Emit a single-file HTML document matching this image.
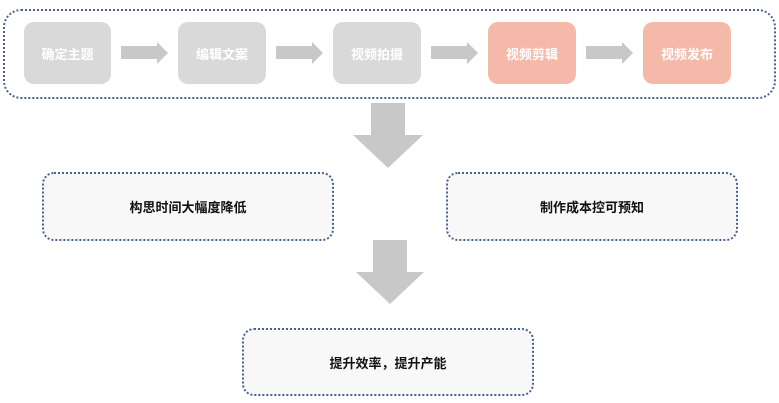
<!DOCTYPE html>
<html><head><meta charset="utf-8"><style>
body{margin:0;width:779px;height:403px;background:#fff;position:relative;overflow:hidden;font-family:"Liberation Sans","Noto Sans CJK SC",sans-serif;}
.a{position:absolute;box-sizing:border-box;}
.c{border:2px dotted #4a6290;border-radius:12px;}
.s{background:#d9d9d9;border-radius:10px;color:#fff;font-weight:bold;font-size:13px;display:flex;align-items:center;justify-content:center;}
.p{background:#f4b9a8;}
.m{background:#f8f8f8;display:flex;align-items:center;justify-content:center;font-weight:bold;font-size:13px;color:#111;}
</style></head><body>
<div class="a c" style="left:3px;top:9px;width:773px;height:90px;border-radius:18px"></div>
<div class="a s" style="left:24px;top:22px;width:87px;height:62px">确定主题</div>
<div class="a s" style="left:178px;top:22px;width:88px;height:62px">编辑文案</div>
<div class="a s" style="left:333px;top:22px;width:88px;height:62px">视频拍摄</div>
<div class="a s p" style="left:488px;top:22px;width:88px;height:62px">视频剪辑</div>
<div class="a s p" style="left:643px;top:22px;width:88px;height:62px">视频发布</div>
<svg class="a" style="left:0;top:0" width="779" height="403">
<g fill="#c8c8c8">
<polygon points="121,46 157,46 157,42 168,53 157,64 157,59 121,59"/>
<polygon points="276,46 312,46 312,42 323,53 312,64 312,59 276,59"/>
<polygon points="431,46 467,46 467,42 478,53 467,64 467,59 431,59"/>
<polygon points="586,46 622,46 622,42 633,53 622,64 622,59 586,59"/>
<polygon points="371,103 405,103 405,135 423,135 388,168 353,135 371,135"/>
<polygon points="373,240 407,240 407,272 424,272 390,304 356,272 373,272"/>
</g></svg>
<div class="a c m" style="left:42px;top:172px;width:292px;height:69px">构思时间大幅度降低</div>
<div class="a c m" style="left:446px;top:172px;width:292px;height:69px">制作成本控可预知</div>
<div class="a c m" style="left:242px;top:328px;width:292px;height:68px">提升效率，提升产能</div>
</body></html>
